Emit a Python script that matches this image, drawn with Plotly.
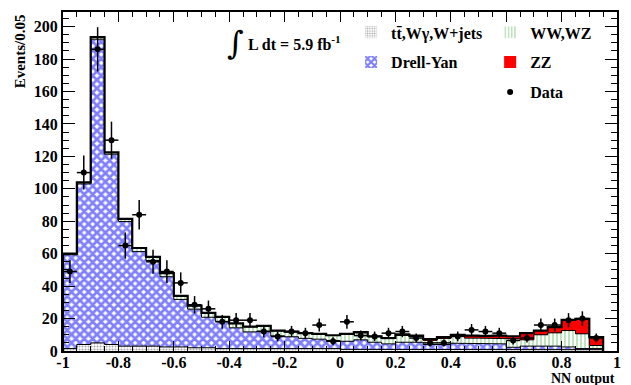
import numpy as np
import plotly.graph_objects as go

# ---------------- data ----------------
bin_lo = -1.0
bin_w = 0.05
n_bins = 39  # -1 .. 0.95

tt_wg_wjets = [1.5, 4, 5, 4, 3, 3, 3, 2.5, 2.5, 2, 2, 1.5, 1.5, 1.5, 1.5, 1.5, 1.5, 1.5, 1.5, 1.5,
               1, 1, 1, 1, 1, 1, 1, 1, 1, 1, 1, 1, 1, 1, 1, 1, 1, 1, 0.8]
drell_yan = [57.8, 99.0, 187.2, 117.3, 76.8, 58.3, 52.8, 43.3, 29.3, 23.8, 18.8, 16.8, 12.8, 10.3, 10.8, 7.8, 7.3, 6.3, 5.8, 5.0,
             5.0, 5.9, 4.4, 3.4, 4.4, 4.4, 3.0, 3.0, 3.8, 3.4, 3.4, 3.4, 1.3, 2.0, 2.0, 2.0, 1.5, 0.5, 0.7]
ww_wz = [0.6, 0.9, 1.2, 1.1, 1.6, 2.1, 2.1, 2.1, 2.1, 2.1, 2.6, 2.6, 2.6, 3.1, 3.1, 3.1, 3.0, 3.0, 3.0, 3.0,
         4.2, 4.3, 3.3, 3.2, 4.2, 3.5, 2.7, 3.8, 4.4, 3.5, 3.5, 3.5, 5.2, 3.9, 7.0, 8.2, 10.1, 9.1, 1.9]
zz = [0.1, 0.1, 0.1, 0.1, 0.1, 0.1, 0.1, 0.1, 0.1, 0.1, 0.1, 0.1, 0.1, 0.1, 0.1, 0.1, 0.2, 0.2, 0.2, 0.2,
      0.4, 0.4, 0.4, 0.4, 0.6, 0.6, 0.6, 0.7, 0.8, 1.6, 1.4, 1.6, 1.6, 4.1, 2.6, 3.5, 6.6, 9.2, 5.1]
data = [49, 110, 186, 130, 65, 84, 55, 49, 42, 28.5, 26, 18, 19, 19, 12, 9, 12, 11, 16, 6,
        18, 9.5, 9, 11, 12, 8, 5, 5, 9, 13, 12, 11, 6.5, 8, 16, 16, 19, 20, 8]

x_tick_vals = [-1, -0.8, -0.6, -0.4, -0.2, 0, 0.2, 0.4, 0.6, 0.8, 1]
x_tick_text = ["-1", "-0.8", "-0.6", "-0.4", "-0.2", "0", "0.2", "0.4", "0.6", "0.8", "1"]
y_tick_vals = [0, 20, 40, 60, 80, 100, 120, 140, 160, 180, 200]

# ---------------- derived ----------------
edges = bin_lo + bin_w * np.arange(n_bins + 1)
centers = edges[:-1] + bin_w / 2
layers = [np.array(tt_wg_wjets), np.array(drell_yan), np.array(ww_wz), np.array(zz)]
cum = np.cumsum(np.vstack(layers), axis=0)

FONT = "Liberation Serif"

fig = go.Figure()

# stacked bars (no outlines)
bar_specs = [
    ("t\u0074\u0304,W\u03b3,W+jets", tt_wg_wjets, dict(color="white", pattern=dict(shape=".", fgcolor="#555555", bgcolor="white", size=3, solidity=0.4)), "legend"),
    ("Drell-Yan", drell_yan, dict(color="white", pattern=dict(shape="x", fgcolor="#0000ff", bgcolor="white", size=6, solidity=0.7)), "legend"),
    ("WW,WZ", ww_wz, dict(color="white", pattern=dict(shape="|", fgcolor="#7fcc7f", bgcolor="white", size=4, solidity=0.5)), "legend2"),
    ("ZZ", zz, dict(color="#ff0000"), "legend2"),
]
for i, (name, vals, marker, lg) in enumerate(bar_specs):
    m = dict(marker)
    m["line"] = dict(width=0, color="black")
    fig.add_trace(go.Bar(x=centers, y=vals, width=bin_w, name=name, marker=m,
                         legend=lg, legendgroup=name, showlegend=True))

# step outlines of the stack
for k in range(cum.shape[0]):
    xs, ys = [edges[0]], [0.0]
    for i in range(n_bins):
        xs += [edges[i], edges[i + 1]]
        ys += [cum[k, i], cum[k, i]]
    xs.append(edges[-1]); ys.append(0.0)
    fig.add_trace(go.Scatter(x=xs, y=ys, mode="lines",
                             line=dict(color="black", width=2.2 if k == cum.shape[0] - 1 else 1),
                             showlegend=False, hoverinfo="skip"))

# data points
fig.add_trace(go.Scatter(
    x=centers, y=data, mode="markers", name="Data",
    marker=dict(color="black", size=6),
    error_y=dict(type="data", array=np.sqrt(np.array(data)), color="black", thickness=1.5, width=0),
    error_x=dict(type="constant", value=bin_w / 2, color="black", thickness=1.5, width=0),
    legend="legend2", legendgroup="Data"))

legend_font = dict(family=FONT, size=16, color="black", weight="bold")
fig.update_layout(
    width=631, height=385,
    margin=dict(l=63, r=10, t=10, b=34),
    paper_bgcolor="white", plot_bgcolor="white",
    barmode="stack", bargap=0,
    font=dict(family=FONT, size=15, color="black", weight="bold"),
    legend=dict(x=0.52, y=0.99, xanchor="left", yanchor="top", font=legend_font,
                bgcolor="rgba(0,0,0,0)", traceorder="grouped", tracegroupgap=6,
                itemwidth=30),
    legend2=dict(x=0.771, y=0.99, xanchor="left", yanchor="top", font=legend_font,
                 bgcolor="rgba(0,0,0,0)", traceorder="grouped", tracegroupgap=6,
                 itemwidth=30),
    xaxis=dict(range=[-1, 1], tickvals=x_tick_vals, ticktext=x_tick_text,
               ticks="inside", ticklen=10, tickwidth=1, tickcolor="black",
               showline=True, linewidth=2, linecolor="black", mirror="allticks",
               showgrid=False, zeroline=False, ticklabelstandoff=-4,
               minor=dict(dtick=0.05, tick0=-1, ticks="inside", ticklen=5, tickcolor="black", showgrid=False),
               tickfont=dict(family=FONT, size=16, weight="bold")),
    yaxis=dict(range=[0, 209], tickvals=y_tick_vals,
               ticks="inside", ticklen=12, tickwidth=1, tickcolor="black",
               showline=True, linewidth=2, linecolor="black", mirror="allticks",
               showgrid=False, zeroline=False,
               minor=dict(dtick=5, tick0=0, ticks="inside", ticklen=6, tickcolor="black", showgrid=False),
               tickfont=dict(family=FONT, size=16, weight="bold")),
    annotations=[
        dict(text="Events/0.05", textangle=-90, xref="paper", yref="paper",
             x=-0.077, y=1.0, xanchor="center", yanchor="top", showarrow=False,
             font=dict(family=FONT, size=15, weight="bold")),
        dict(text="NN output", xref="paper", yref="paper", x=1.0, y=-0.052,
             xanchor="right", yanchor="top", showarrow=False,
             font=dict(family=FONT, size=14, weight="bold")),
        dict(text="\u222b", xref="paper", yref="paper", x=0.312, y=0.91,
             xanchor="center", yanchor="middle", showarrow=False,
             font=dict(family="DejaVu Serif", size=32, weight="normal")),
        dict(text="L dt = 5.9 fb<sup>-1</sup>", xref="paper", yref="paper", x=0.331, y=0.91,
             xanchor="left", yanchor="middle", showarrow=False,
             font=dict(family=FONT, size=16, weight="bold")),
    ],
)

fig.write_html("out.html", config={"displayModeBar": False},
               post_script="document.body.style.margin='0';document.body.style.padding='0';")
